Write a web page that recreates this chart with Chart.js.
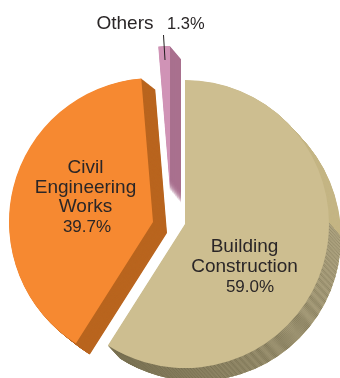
<!DOCTYPE html>
<html>
<head>
<meta charset="utf-8">
<style>
  html, body { margin: 0; padding: 0; background: #fff; }
  canvas { display: block; }
</style>
<script src="https://cdn.jsdelivr.net/npm/chart.js@4/dist/chart.umd.js"></script>
</head>
<body>
<canvas id="myChart" width="340" height="378"></canvas>
<script>
const categories = ['Building Construction', 'Civil Engineering Works', 'Others'];
const shares = [59.0, 39.7, 1.3];

const faceColors = ['#cdbe90', '#f68931', '#d093b6'];
const sideColors = ['#c4b584', '#b9651f', '#a9708f'];

// how far each slice is pulled out of the pie, and how thick it is
const sliceShift = [[15, 35], [-17, 33], [0, 1]];
const sliceDepth = [[12, 13], [14, 11], [11, 13]];

const labelLines = [
  ['Building', 'Construction'],
  ['Civil', 'Engineering', 'Works']
];
const labelCenters = [[244.5, 252], [85.5, 173]];
const valueAnchors = [[250, 292], [87, 232]];

function hatchPattern(ctx) {
  const tile = document.createElement('canvas');
  tile.width = 3;
  tile.height = 3;
  const t = tile.getContext('2d');
  t.fillStyle = '#b7ac88';
  t.fillRect(0, 0, 3, 3);
  t.fillStyle = '#8a8160';
  for (let i = 0; i < 3; i++) t.fillRect(2 - i, i, 1, 1);
  return ctx.createPattern(tile, 'repeat');
}

function drawArc(ctx, arc, fill, dx, dy) {
  const saved = arc.options;
  arc.options = Object.assign({}, saved, { backgroundColor: fill, borderWidth: 0 });
  ctx.save();
  ctx.translate(dx, dy);
  arc.draw(ctx);
  ctx.restore();
  arc.options = saved;
}

function drawSide(ctx, arc, i, fill) {
  const [sx, sy] = sliceShift[i];
  const [dx, dy] = sliceDepth[i];
  const steps = Math.max(dx, dy) * 2;
  for (let s = steps; s > 0; s--) {
    drawArc(ctx, arc, fill, sx + dx * s / steps, sy + dy * s / steps);
  }
}

const explodedPie = {
  id: 'explodedPie',
  beforeDatasetDraw(chart) {
    const ctx = chart.ctx;
    const arcs = chart.getDatasetMeta(0).data;

    // rim of the big slice: plain at the top, hatched lower down, darker to the left
    drawSide(ctx, arcs[0], 0, sideColors[0]);
    ctx.save();
    ctx.beginPath();
    ctx.moveTo(342, 238);
    ctx.lineTo(326, 220);
    ctx.lineTo(60, 220);
    ctx.lineTo(60, 378);
    ctx.lineTo(342, 378);
    ctx.closePath();
    ctx.clip();
    drawSide(ctx, arcs[0], 0, hatchPattern(ctx));
    ctx.globalCompositeOperation = 'source-atop';
    const shade = ctx.createLinearGradient(110, 350, 340, 230);
    shade.addColorStop(0, 'rgba(50,45,20,0.4)');
    shade.addColorStop(1, 'rgba(50,45,20,0)');
    ctx.fillStyle = shade;
    ctx.fillRect(60, 220, 282, 158);
    ctx.restore();

    [2, 1].forEach(i => drawSide(ctx, arcs[i], i, sideColors[i]));

    arcs.forEach((arc, i) => {
      drawArc(ctx, arc, faceColors[i], sliceShift[i][0], sliceShift[i][1]);
    });
    return false;
  },
  afterDatasetsDraw(chart) {
    const ctx = chart.ctx;
    ctx.save();
    ctx.fillStyle = '#2a2627';
    ctx.textBaseline = 'alphabetic';
    ctx.textAlign = 'center';

    labelLines.forEach((lines, i) => {
      const [cx, top] = labelCenters[i];
      ctx.font = '19px "Liberation Sans"';
      lines.forEach((line, n) => ctx.fillText(line, cx, top + n * 19.5));
      ctx.font = '17px "Liberation Sans"';
      ctx.fillText(shares[i].toFixed(1) + '%', valueAnchors[i][0], valueAnchors[i][1]);
    });

    ctx.textAlign = 'left';
    ctx.font = '19px "Liberation Sans"';
    ctx.fillText(categories[2], 96.5, 28.5);
    ctx.font = '16.5px "Liberation Sans"';
    ctx.fillText(shares[2].toFixed(1) + '%', 167, 28.5);

    // leader from the small slice up to its label
    ctx.strokeStyle = '#231f20';
    ctx.lineWidth = 1;
    ctx.beginPath();
    ctx.moveTo(163.5, 35);
    ctx.lineTo(165, 60);
    ctx.stroke();
    ctx.restore();
  }
};

new Chart(document.getElementById('myChart'), {
  type: 'pie',
  data: {
    labels: categories,
    datasets: [{
      data: shares,
      backgroundColor: faceColors,
      borderWidth: 0,
      radius: 144
    }]
  },
  options: {
    responsive: false,
    animation: false,
    layout: { padding: 0 },
    plugins: {
      legend: { display: false },
      tooltip: { enabled: false }
    }
  },
  plugins: [explodedPie]
});
</script>
</body>
</html>
